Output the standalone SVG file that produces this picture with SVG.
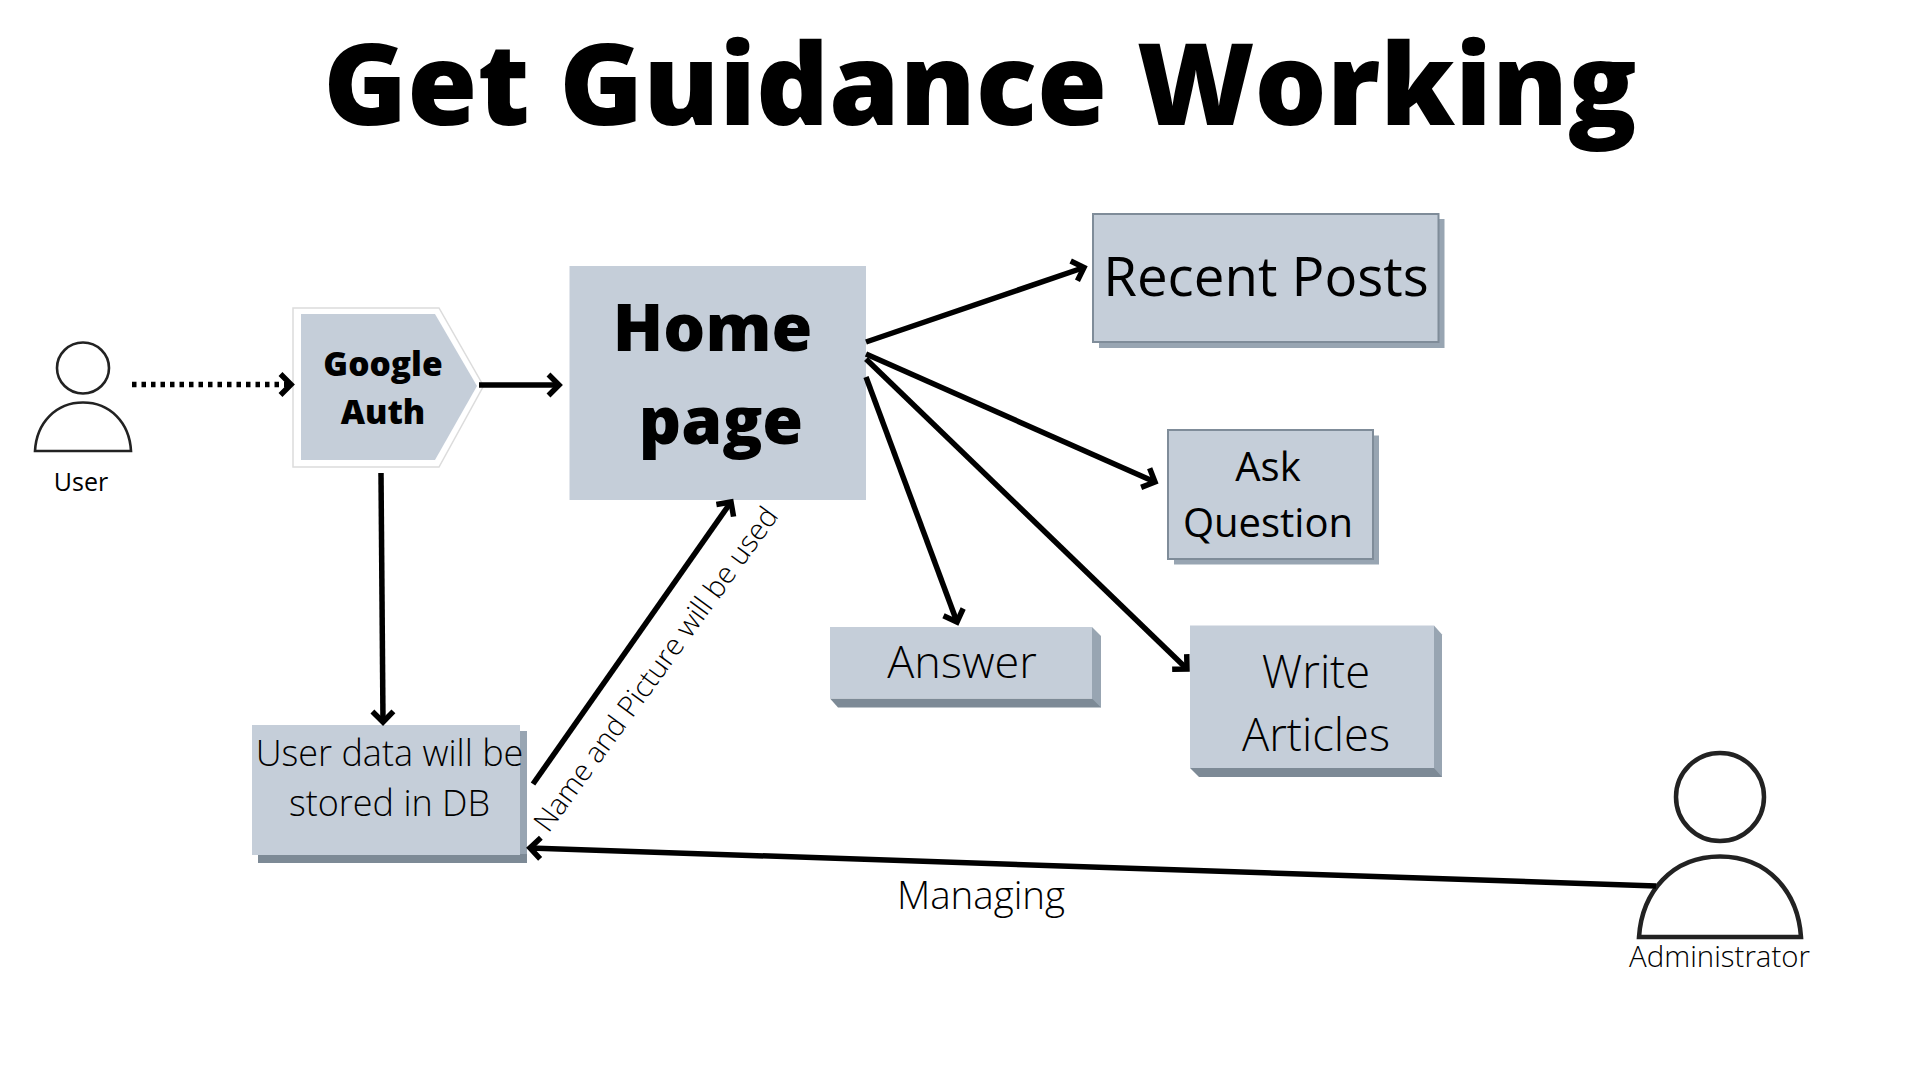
<svg xmlns="http://www.w3.org/2000/svg" width="1920" height="1080" viewBox="0 0 1920 1080">
<style>
text{font-family:"Open Sans","Noto Sans","Liberation Sans",sans-serif;fill:#000;text-anchor:middle}
.l{font-weight:300}
.r{font-weight:400}
.b{font-weight:800}
.c{fill:none;stroke:#000;stroke-width:5.500;stroke-linecap:butt}
.front{fill:#c5ced9}
.edge{stroke:#7f8c99;stroke-width:2}
.sh{fill:#98a5b2}
.dk{fill:#7d8a96}
.hd{fill:#fff;stroke:#222}
</style>
<defs>
<marker id="a" markerUnits="userSpaceOnUse" markerWidth="32" markerHeight="32" refX="14" refY="13" orient="auto"><path d="M3.500 2.500L14 13L3.500 23.500" fill="none" stroke="#000" stroke-width="5.500"/></marker>
</defs>
<text id="title" x="980" y="125" class="b" font-size="113.500">Get Guidance Working</text>
<g id="user">
<ellipse class="hd" cx="83" cy="368" rx="26" ry="25.500" stroke-width="2.600"/>
<path class="hd" d="M35 451C36.500 422.500 56 402.500 83 402.500C110 402.500 129.500 422.500 131 451Z" stroke-width="2.600"/>
<text x="81" y="490.500" class="r" font-size="25">User</text>
</g>
<g id="google-auth">
<path d="M293 308H439L483.500 386L439 467H293Z" fill="#fff" stroke="#dcdcdc" stroke-width="1.500"/>
<path class="front" d="M301 314H435L477 386L435 460H301Z"/>
<text x="383" y="375.500" class="b" font-size="33.500">Google</text>
<text x="383" y="423.500" class="b" font-size="33.500">Auth</text>
</g>
<g id="home">
<rect class="front" x="569.500" y="266" width="296.500" height="234"/>
<text x="712.500" y="350.500" class="b" font-size="66">Home</text>
<text x="721" y="444" class="b" font-size="66">page</text>
</g>
<g id="recent">
<rect class="sh" x="1099" y="219" width="345.500" height="129"/>
<rect class="front edge" x="1093" y="214" width="345.500" height="128"/>
<text x="1266" y="296" class="r" font-size="54.600">Recent Posts</text>
</g>
<g id="ask">
<rect class="sh" x="1174" y="435.500" width="205" height="129"/>
<rect class="front edge" x="1168" y="430" width="205" height="129"/>
<text x="1268" y="481" class="r" font-size="40">Ask</text>
<text x="1268" y="537" class="r" font-size="40">Question</text>
</g>
<g id="answer">
<path class="dk" d="M830 698.500L838 707.500H1101V698.500Z"/>
<path class="sh" d="M1092 627L1101 636V707.500L1092 698.500Z"/>
<rect class="front" x="830" y="627" width="262" height="71.500"/>
<text x="962" y="678" class="l" font-size="45">Answer</text>
</g>
<g id="write">
<path class="dk" d="M1190 768L1199 777H1442V768Z"/>
<path class="sh" d="M1434 625.500L1442 634.500V777L1434 768Z"/>
<rect class="front" x="1190" y="625.500" width="244" height="142.500"/>
<text x="1316" y="688" class="l" font-size="45.300">Write</text>
<text x="1316" y="751" class="l" font-size="45.300">Articles</text>
</g>
<g id="db">
<path class="sh" d="M258 731H527V863H258Z"/>
<path class="dk" d="M258 854H527V863H258Z"/>
<rect class="front" x="252" y="725" width="268" height="130"/>
<text x="389.500" y="766" class="l" font-size="36">User data will be</text>
<text x="389.500" y="815.500" class="l" font-size="36">stored in DB</text>
</g>
<g id="admin">
<ellipse class="hd" cx="1720" cy="797" rx="44" ry="44" stroke-width="4.500"/>
<path class="hd" d="M1639 937C1642 892 1672 856.500 1720 856.500C1768 856.500 1798 892 1801 937Z" stroke-width="4.500"/>
<text x="1719.500" y="966.500" class="l" font-size="29.400">Administrator</text>
</g>
<g id="connectors">
<path class="c" d="M132 384.500H291" stroke-dasharray="4.500 5" marker-end="url(#a)"/>
<path class="c" d="M479 385H559" marker-end="url(#a)"/>
<path class="c" d="M381 473L383 722" marker-end="url(#a)"/>
<path class="c" d="M866 342L1084 267.500" marker-end="url(#a)"/>
<path class="c" d="M866 354L1155 482" marker-end="url(#a)"/>
<path class="c" d="M866 359L1187 669" marker-end="url(#a)"/>
<path class="c" d="M866 377L957 622" marker-end="url(#a)"/>
<path class="c" d="M533 784L731 502" marker-end="url(#a)"/>
<path class="c" d="M1656 886L530 848" marker-end="url(#a)"/>
</g>
<text id="l-name" class="l" font-size="28.900" transform="translate(664 675) rotate(-54)">Name and Picture will be used</text>
<text id="l-managing" x="981" y="908.500" class="l" font-size="38.500">Managing</text>
</svg>
